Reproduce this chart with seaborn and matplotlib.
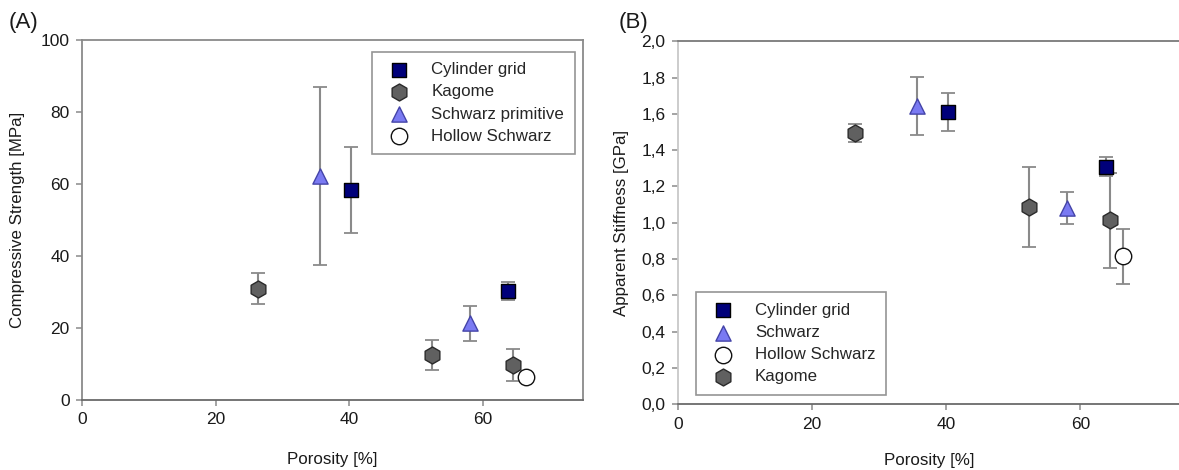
import numpy as np
import pandas as pd
import matplotlib
matplotlib.use("Agg")
import matplotlib.pyplot as plt
from matplotlib.ticker import FuncFormatter, MultipleLocator
import seaborn as sns

# Porosity [%] of each lattice design
por_cylinder = [40.3, 63.8]
por_kagome = [26.4, 52.4, 64.5]
por_schwarz = [35.6, 58.0]
por_hollow = [66.4]

# Compressive strength [MPa] (mean, std)
cs_cylinder = [58.3, 30.3]
cs_cylinder_err = [12.0, 2.4]
cs_kagome = [30.9, 12.5, 9.7]
cs_kagome_err = [4.3, 4.2, 4.4]
cs_schwarz = [62.3, 21.3]
cs_schwarz_err = [24.7, 4.9]
cs_hollow = [6.5]
cs_hollow_err = [0.6]

# Apparent stiffness [GPa] (mean, std)
st_cylinder = [1.61, 1.31]
st_cylinder_err = [0.105, 0.05]
st_kagome = [1.495, 1.087, 1.013]
st_kagome_err = [0.05, 0.22, 0.26]
st_schwarz = [1.645, 1.083]
st_schwarz_err = [0.16, 0.087]
st_hollow = [0.815]
st_hollow_err = [0.15]

sns.set_theme(style="white")
plt.rcParams["font.family"] = ["Liberation Sans", "DejaVu Sans"]

styles = {
    "cyl": dict(marker="s", color="#00007a", edgecolor="#000000", s=105),
    "kag": dict(marker="h", color="#606060", edgecolor="#2a2a2a", s=150),
    "sch": dict(marker="^", color="#7a7af2", edgecolor="#4444a8", s=120),
    "hol": dict(marker="o", color="#ffffff", edgecolor="#111111", s=140),
}

FS = 12.2
fig = plt.figure(figsize=(11.79, 4.70), dpi=100)
axA = fig.add_axes([0.0696, 0.149, 0.425, 0.766])
axB = fig.add_axes([0.575, 0.140, 0.4266, 0.772])

ERR_COLOR = "#8a8a8a"


def draw_group(ax, key, x, y, err, label):
    ax.errorbar(x, y, yerr=err, fmt="none", ecolor=ERR_COLOR, elinewidth=1.5,
                capsize=5.2, capthick=1.3, zorder=2)
    st = styles[key]
    df = pd.DataFrame({"x": x, "y": y})
    sns.scatterplot(data=df, x="x", y="y", ax=ax, marker=st["marker"],
                    color=st["color"], edgecolor=st["edgecolor"], linewidth=1.0,
                    s=st["s"], zorder=3, label=label, legend=False)


def style_axes(ax, spine_colors):
    ax.set_xlim(0, 75)
    ax.xaxis.set_major_locator(MultipleLocator(20))
    for side, c in spine_colors.items():
        if c is None:
            ax.spines[side].set_visible(False)
        else:
            ax.spines[side].set_visible(True)
            ax.spines[side].set_color(c)
            ax.spines[side].set_linewidth(1.3)
    ax.tick_params(axis="both", which="major", direction="out", length=4,
                   width=1.1, color="#8a8a8a", labelsize=FS + 0.3,
                   labelcolor="#1a1a1a", pad=5, left=True, bottom=True)
    ax.grid(False)


LEG_KW = dict(fontsize=FS, frameon=True, fancybox=False, edgecolor="#7a7a7a",
              borderpad=0.62, labelspacing=0.42, handletextpad=0.95,
              handlelength=1.9, borderaxespad=0.0)

# ---- Panel A: compressive strength ----
draw_group(axA, "cyl", por_cylinder, cs_cylinder, cs_cylinder_err, "Cylinder grid")
draw_group(axA, "kag", por_kagome, cs_kagome, cs_kagome_err, "Kagome")
draw_group(axA, "sch", por_schwarz, cs_schwarz, cs_schwarz_err, "Schwarz primitive")
draw_group(axA, "hol", por_hollow, cs_hollow, cs_hollow_err, "Hollow Schwarz")
axA.set_ylim(0, 100)
axA.yaxis.set_major_locator(MultipleLocator(20))
style_axes(axA, {"left": "#8a8a8a", "bottom": "#6a6a6a", "top": "#8a8a8a", "right": "#8a8a8a"})
axA.set_xlabel("Porosity [%]", fontsize=FS, color="#1a1a1a", labelpad=18)
axA.set_ylabel("Compressive Strength [MPa]", fontsize=FS, color="#1a1a1a", labelpad=11)
hA, lA = axA.get_legend_handles_labels()
legA = axA.legend(hA, lA, loc="upper right", bbox_to_anchor=(0.983, 0.967), **LEG_KW)
legA.get_frame().set_linewidth(1.2)

# ---- Panel B: apparent stiffness ----
draw_group(axB, "cyl", por_cylinder, st_cylinder, st_cylinder_err, "Cylinder grid")
draw_group(axB, "sch", por_schwarz, st_schwarz, st_schwarz_err, "Schwarz")
draw_group(axB, "hol", por_hollow, st_hollow, st_hollow_err, "Hollow Schwarz")
draw_group(axB, "kag", por_kagome, st_kagome, st_kagome_err, "Kagome")
axB.set_ylim(0, 2.0)
axB.yaxis.set_major_locator(MultipleLocator(0.2))
axB.yaxis.set_major_formatter(FuncFormatter(lambda v, p: f"{v:.1f}".replace(".", ",")))
style_axes(axB, {"left": "#c8c8c8", "bottom": "#6a6a6a", "top": "#7a7a7a", "right": None})
axB.set_xlabel("Porosity [%]", fontsize=FS, color="#1a1a1a", labelpad=15)
axB.set_ylabel("Apparent Stiffness [GPa]", fontsize=FS, color="#1a1a1a", labelpad=9)
hB, lB = axB.get_legend_handles_labels()
legB = axB.legend(hB, lB, loc="lower left", bbox_to_anchor=(0.036, 0.026), **LEG_KW)
legB.get_frame().set_linewidth(1.2)

fig.text(0.007, 0.975, "(A)", fontsize=16, color="#1a1a1a", va="top", ha="left")
fig.text(0.525, 0.975, "(B)", fontsize=16, color="#1a1a1a", va="top", ha="left")

fig.savefig("out.png", dpi=100, facecolor="white")
